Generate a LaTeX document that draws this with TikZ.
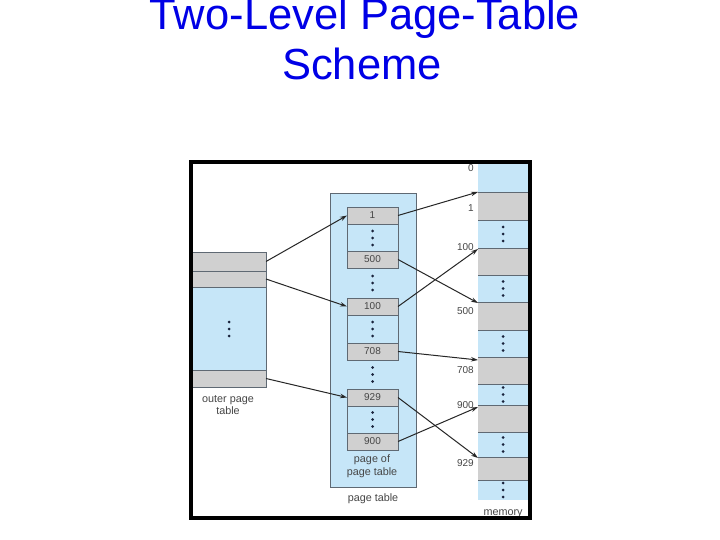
\documentclass[tikz,border=0pt]{standalone}
\usepackage{fontspec}
\setmainfont{Liberation Sans}
\usetikzlibrary{arrows.meta}
\definecolor{pblue}{RGB}{198,230,248}
\definecolor{pgray}{RGB}{208,208,208}
\definecolor{pline}{RGB}{95,105,115}
\definecolor{ttl}{RGB}{0,0,230}
\definecolor{lbl}{RGB}{70,70,70}
\definecolor{dotc}{RGB}{25,35,60}
\begin{document}
\begin{tikzpicture}[x=1pt,y=-1pt,
  cell/.style={draw=pline, line width=0.7pt, anchor=north west, inner sep=0pt, outer sep=0pt, font=\fontsize{10}{12}\selectfont, text=lbl},
  gcell/.style={cell, fill=pgray},
  bcell/.style={cell, fill=pblue},
  mcell/.style={anchor=north west, inner sep=0pt, outer sep=0pt, minimum width=50pt},
  lab/.style={font=\fontsize{10}{12}\selectfont, text=lbl, inner sep=0pt, align=center},
  biglab/.style={lab, font=\fontsize{10.8}{12.5}\selectfont},
  ttlstyle/.style={font=\fontsize{43.5}{50}\selectfont, text=ttl, anchor=base, inner sep=0pt},
  ptr/.style={-{Stealth[length=7pt,width=4.5pt]}, line width=1pt, draw=black!85},
  sep/.style={draw=pline, line width=0.8pt},
  threedots/.pic={\fill[dotc] (0,-7) circle (1.5); \fill[dotc] (0,0) circle (1.5); \fill[dotc] (0,7) circle (1.5);}
]
\useasboundingbox (0,0) rectangle (720,540);
\fill[white] (0,0) rectangle (720,540);

% title
\node[ttlstyle] (t1) at (365,30) {Two-Level Page-Table};
\node[ttlstyle] (t2) at (362,80) {Scheme};

% outer page table
\node[bcell, minimum width=74pt, minimum height=135pt] (otab) at (192,252) {};
\node[gcell, minimum width=74pt, minimum height=19pt] (o1) at (192,252) {};
\node[gcell, minimum width=74pt, minimum height=16pt] (o2) at (192,271) {};
\node[gcell, minimum width=74pt, minimum height=17pt] (o3) at (192,370) {};
\pic at (229,329) {threedots};
\node[biglab] (olab) at (228,405) {outer page\\table};

% page table
\node[bcell, minimum width=86pt, minimum height=294pt] (pt) at (330,193) {};
\node[bcell, minimum width=51pt, minimum height=61pt] (ba) at (347,207) {};
\node[gcell, minimum width=51pt, minimum height=17pt] (p1) at (347,207) {1};
\node[gcell, minimum width=51pt, minimum height=17pt] (p500) at (347,251) {500};
\pic at (372.5,238) {threedots};
\pic at (372.5,283) {threedots};
\node[bcell, minimum width=51pt, minimum height=62pt] (bb) at (347,298) {};
\node[gcell, minimum width=51pt, minimum height=17pt] (p100) at (347,298) {100};
\node[gcell, minimum width=51pt, minimum height=17pt] (p708) at (347,343) {708};
\pic at (372.5,329) {threedots};
\pic at (372.5,374.5) {threedots};
\node[bcell, minimum width=51pt, minimum height=61pt] (bc) at (347,389) {};
\node[gcell, minimum width=51pt, minimum height=17pt] (p929) at (347,389) {929};
\node[gcell, minimum width=51pt, minimum height=17pt] (p900) at (347,433) {900};
\pic at (372.5,419.5) {threedots};
\node[biglab] (pplab) at (372,466) {page of\\page table};
\node[biglab] (ptlab) at (373,499) {page table};

% memory
\node[mcell, fill=pblue, minimum height=337pt] (mem) at (478,163) {};
\node[mcell, fill=pgray, minimum height=28pt] (m1) at (478,192) {};
\node[mcell, fill=pgray, minimum height=27pt] (m100) at (478,248) {};
\node[mcell, fill=pgray, minimum height=28pt] (m500) at (478,302) {};
\node[mcell, fill=pgray, minimum height=27pt] (m708) at (478,357) {};
\node[mcell, fill=pgray, minimum height=27pt] (m900) at (478,405) {};
\node[mcell, fill=pgray, minimum height=23pt] (m929) at (478,457) {};
\foreach \m in {m1,m100,m500,m708,m900,m929}{
  \draw[sep] (\m.north west) -- (\m.north east);
  \draw[sep] (\m.south west) -- (\m.south east);
}
\foreach \y in {234,288.5,343.5,394.5,444.5,490}{\pic at (503,\y) {threedots};}
\node[lab, anchor=east] (a0) at (474,168) {0};
\node[lab, anchor=east] (a1) at (474,208) {1};
\node[lab, anchor=east] (a100) at (474,247) {100};
\node[lab, anchor=east] (a500) at (474,311) {500};
\node[lab, anchor=east] (a708) at (474,370) {708};
\node[lab, anchor=east] (a900) at (474,405) {900};
\node[lab, anchor=east] (a929) at (474,463) {929};
\node[biglab] (mlab) at (503,514) {memory};

% pointers
\draw[ptr] (o1.east) -- (p1.west);
\draw[ptr] (o2.east) -- (p100.west);
\draw[ptr] (o3.east) -- (p929.west);
\draw[ptr] (p1.east) -- (m1.north west);
\draw[ptr] (p500.east) -- ([yshift=-1pt]m500.north west);
\draw[ptr] (p100.east) -- ([yshift=-1pt]m100.north west);
\draw[ptr] (p708.east) -- ([yshift=-3pt]m708.north west);
\draw[ptr] (p929.east) -- ([yshift=-1pt]m929.north west);
\draw[ptr] (p900.east) -- ([yshift=-2pt]m900.north west);

% frame
\draw[line width=4pt] (191,162) rectangle (530,518);
\end{tikzpicture}
\end{document}
